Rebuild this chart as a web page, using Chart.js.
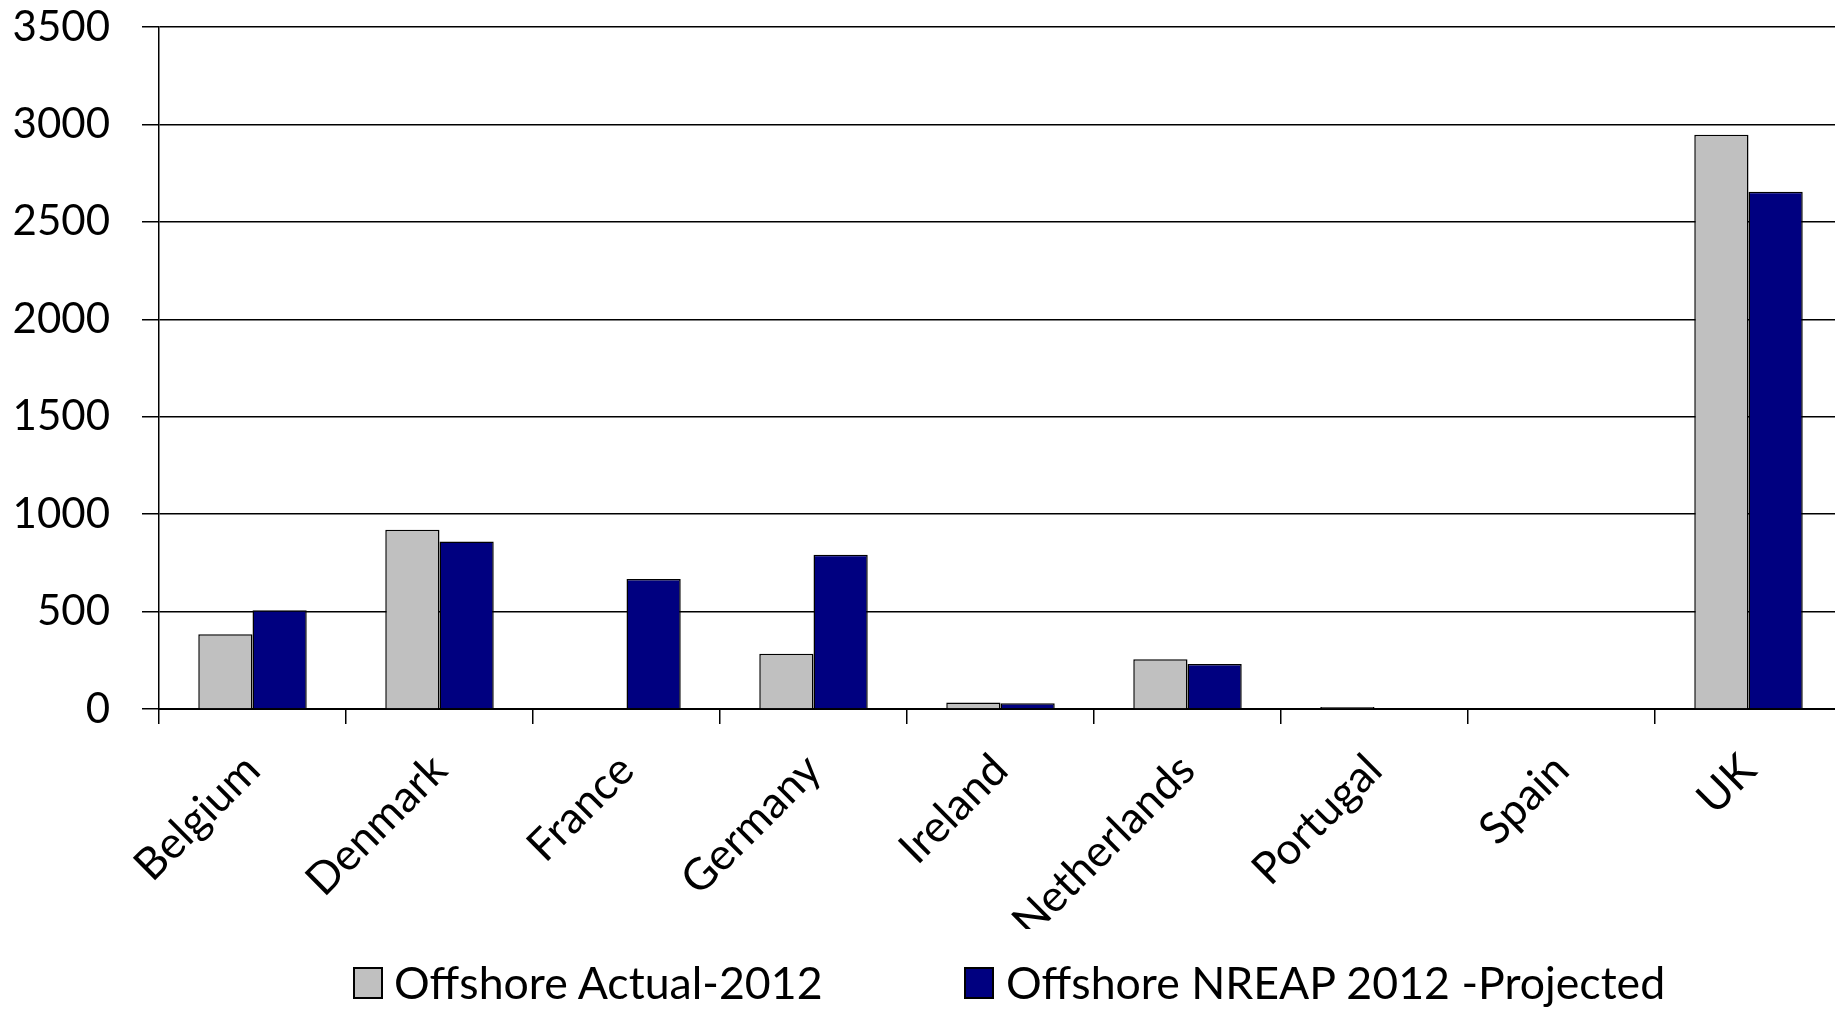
<!DOCTYPE html>
<html lang="en">
<head>
  <meta charset="UTF-8">
  <title>Offshore wind 2012</title>
  <script src="https://cdn.jsdelivr.net/npm/chart.js"></script>
  <style>
    html, body { margin: 0; padding: 0; background: #fff; overflow: hidden; }
    #wrap { position: relative; width: 1835px; height: 1009px; overflow: hidden; }
    #chart { position: absolute; left: 0; top: 0; }
    .lg { position: absolute; top: 958px; height: 48px; font-family: Lato, sans-serif; font-size: 44px; line-height: 48px; color: #000; white-space: nowrap; transform-origin: left center; transform: scaleX(1.015); }
    .box { position: absolute; top: 967px; width: 26px; height: 28px; border: 2px solid #000; }
  </style>
</head>
<body>
  <div id="wrap">
    <canvas id="chart" width="1842" height="1009" style="width:1842px;height:1009px"></canvas>
    <div class="box" style="left:353px;background:#c0c0c0"></div>
    <div class="lg" style="left:394px">Offshore Actual-2012</div>
    <div class="box" style="left:964px;background:#000080"></div>
    <div class="lg" style="left:1006px">Offshore NREAP 2012 -Projected</div>
  </div>

  <script>
    const countries = ['Belgium', 'Denmark', 'France', 'Germany', 'Ireland', 'Netherlands', 'Portugal', 'Spain', 'UK'];
    const actual2012 = [384, 920, 0, 283, 33, 255, 10, 0, 2947];
    const nreap2012 = [507, 860, 667, 792, 30, 231, 0, 0, 2655];
    const yTicks = [0, 500, 1000, 1500, 2000, 2500, 3000, 3500];

    const yFont = { family: 'Lato', size: 42 };
    const xFont = { family: 'Lato', size: 44 };

    const config = {
      type: 'bar',
      data: {
        labels: countries,
        datasets: [{
          label: 'Offshore Actual-2012',
          data: actual2012,
          backgroundColor: '#c0c0c0',
          borderColor: '#000',
          borderWidth: 1.5
        }, {
          label: 'Offshore NREAP 2012 -Projected',
          data: nreap2012,
          backgroundColor: '#000080',
          borderColor: '#000',
          borderWidth: 1.5
        }]
      },
      options: {
        responsive: false,
        animation: false,
        layout: { padding: { top: 0, right: 0, bottom: 80, left: 0 } },
        datasets: { bar: { categoryPercentage: 0.58, barPercentage: 1.0 } },
        plugins: { legend: { display: false }, tooltip: { enabled: false } },
        scales: {
          x: {
            grid: { offset: true, drawOnChartArea: false, color: '#000', lineWidth: 1.5, tickLength: 15 },
            border: { color: '#000', width: 2 },
            ticks: { color: '#000', font: xFont, maxRotation: 45, minRotation: 45, autoSkip: false, padding: 20 },
            afterFit: function (scale) { scale.height = 220; }
          },
          y: {
            min: 0,
            max: 3500,
            afterBuildTicks: function (scale) { scale.ticks = yTicks.map(v => ({ value: v })); },
            grid: { color: '#000', lineWidth: 1.5, tickLength: 17 },
            border: { color: '#000', width: 1.5 },
            ticks: { color: '#000', font: yFont, padding: 32, callback: v => String(v) },
            afterFit: function (scale) {
              scale.width = 159;
              scale.paddingTop = 27;
              scale.paddingBottom = 0;
            }
          }
        }
      }
    };

    const ctx = document.getElementById('chart').getContext('2d');
    new Chart(ctx, config);
  </script>
</body>
</html>
